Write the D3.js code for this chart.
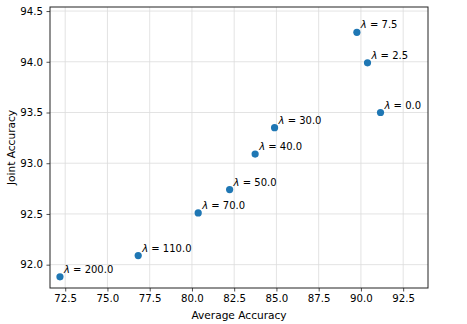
<!DOCTYPE html>
<html>
<head>
<meta charset="utf-8">
<script src="https://cdn.jsdelivr.net/npm/d3@7"></script>
<style>
  body { margin: 0; background: #fff; }
  text { font-family: "DejaVu Sans", sans-serif; }
</style>
</head>
<body>
<svg width="467" height="324"></svg>
<script>
var lambdas = ["200.0", "110.0", "70.0", "50.0", "40.0", "30.0", "7.5", "2.5", "0.0"];
var avgAcc = [72.19, 76.82, 80.37, 82.23, 83.74, 84.89, 89.76, 90.39, 91.16];
var jointAcc = [91.88, 92.09, 92.51, 92.74, 93.09, 93.35, 94.29, 93.99, 93.50];
var xTicks = [72.5, 75.0, 77.5, 80.0, 82.5, 85.0, 87.5, 90.0, 92.5];
var yTicks = [92.0, 92.5, 93.0, 93.5, 94.0, 94.5];

var data = lambdas.map(function(l, i) { return {lambda: l, x: avgAcc[i], y: jointAcc[i]}; });

var svg = d3.select("svg"),
    margin = {top: 7, right: 39, bottom: 36, left: 50},
    width = svg.attr("width") - margin.left - margin.right,
    height = svg.attr("height") - margin.top - margin.bottom;

var x = d3.scaleLinear().domain([71.6, 93.97]).range([0, width]),
    y = d3.scaleLinear().domain([91.77, 94.54]).range([height, 0]);

var g = svg.append("g")
    .attr("transform", "translate(" + margin.left + "," + margin.top + ")");

// grid
g.append("g").selectAll("line").data(xTicks).enter().append("line")
    .attr("x1", function(d) { return x(d); }).attr("x2", function(d) { return x(d); })
    .attr("y1", 0).attr("y2", height)
    .attr("stroke", "#dcdcdc").attr("stroke-width", 0.8);
g.append("g").selectAll("line").data(yTicks).enter().append("line")
    .attr("y1", function(d) { return y(d); }).attr("y2", function(d) { return y(d); })
    .attr("x1", 0).attr("x2", width)
    .attr("stroke", "#dcdcdc").attr("stroke-width", 0.8);

var xAxis = g.append("g")
    .attr("transform", "translate(0," + height + ")")
    .call(d3.axisBottom(x).tickValues(xTicks).tickFormat(d3.format(".1f")).tickSizeOuter(0).tickSize(3.5).tickPadding(3.5));
var yAxis = g.append("g")
    .call(d3.axisLeft(y).tickValues(yTicks).tickFormat(d3.format(".1f")).tickSizeOuter(0).tickSize(3.5).tickPadding(3.5));

[xAxis, yAxis].forEach(function(a) {
  a.select(".domain").remove();
  a.selectAll("text").attr("font-size", 10.2).attr("fill", "#000").style("font-family", "DejaVu Sans");
  a.selectAll("line").attr("stroke", "#222").attr("stroke-width", 0.8);
});

// frame
g.append("rect")
    .attr("width", width).attr("height", height)
    .attr("fill", "none").attr("stroke", "#222").attr("stroke-width", 1);

g.selectAll(".dot")
    .data(data)
    .enter().append("circle")
      .attr("class", "dot")
      .attr("cx", function(d) { return x(d.x); })
      .attr("cy", function(d) { return y(d.y); })
      .attr("r", 3.6)
      .attr("fill", "#1f77b4");

var lab = g.selectAll(".lab")
    .data(data)
    .enter().append("text")
      .attr("class", "lab")
      .attr("x", function(d) { return x(d.x) + 4; })
      .attr("y", function(d) { return y(d.y) - 4; })
      .attr("font-size", 10)
      .attr("fill", "#000");
lab.append("tspan").attr("font-style", "italic").text("λ");
lab.append("tspan").text(function(d) { return " = " + d.lambda; });

svg.append("text")
    .attr("x", margin.left + width / 2).attr("y", 319)
    .attr("text-anchor", "middle").attr("font-size", 10.6).attr("fill", "#000")
    .text("Average Accuracy");
svg.append("text")
    .attr("transform", "translate(14.5," + (margin.top + height / 2) + ") rotate(-90)")
    .attr("text-anchor", "middle").attr("font-size", 10.6).attr("fill", "#000")
    .text("Joint Accuracy");
</script>
</body>
</html>
